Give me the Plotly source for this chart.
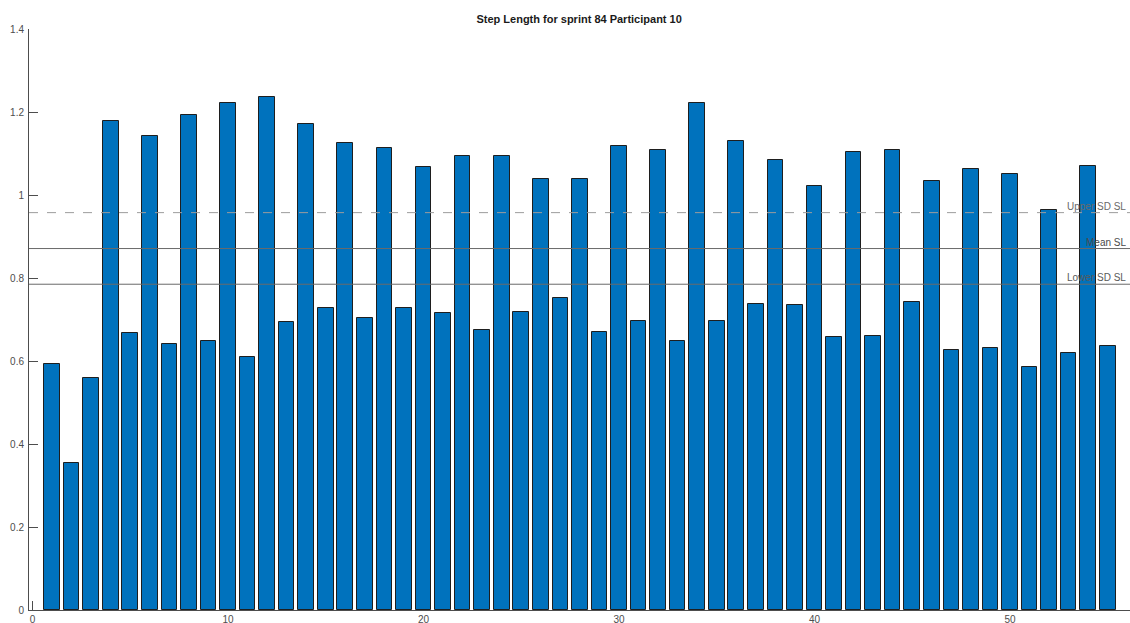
import plotly.graph_objects as go

steps = [1, 2, 3, 4, 5, 6, 7, 8, 9, 10, 11, 12, 13, 14, 15, 16, 17, 18, 19, 20,
         21, 22, 23, 24, 25, 26, 27, 28, 29, 30, 31, 32, 33, 34, 35, 36, 37, 38, 39, 40,
         41, 42, 43, 44, 45, 46, 47, 48, 49, 50, 51, 52, 53, 54, 55]
step_length = [0.592, 0.354, 0.560, 1.179, 0.668, 1.141, 0.641, 1.193, 0.649, 1.222,
               0.609, 1.235, 0.694, 1.170, 0.727, 1.126, 0.704, 1.113, 0.727, 1.067,
               0.715, 1.095, 0.674, 1.095, 0.717, 1.038, 0.753, 1.039, 0.670, 1.119,
               0.696, 1.108, 0.648, 1.221, 0.696, 1.129, 0.738, 1.085, 0.734, 1.022,
               0.657, 1.104, 0.661, 1.108, 0.741, 1.034, 0.627, 1.063, 0.631, 1.051,
               0.586, 0.963, 0.620, 1.070, 0.635]

ref_names = ["Upper SD SL", "Mean SL", "Lower SD SL"]
ref_values = [0.9575, 0.871, 0.785]
ref_dash = ["dash", "solid", "solid"]
ref_colors = ["#9c9c9c", "#6a6a6a", "#6a6a6a"]
ref_text_colors = ["#6a6a6a", "#4a4a4a", "#5a5a5a"]

title_text = "Step Length for sprint 84 Participant 10"

fig = go.Figure()
fig.add_trace(go.Bar(
    x=steps, y=step_length, width=0.8,
    marker=dict(color="#0072BD", line=dict(color="#1e1e1e", width=1)),
    showlegend=False,
))

for name, val, dash, col, tcol in zip(ref_names, ref_values, ref_dash, ref_colors, ref_text_colors):
    fig.add_shape(type="line", xref="paper", x0=0, x1=1, yref="y", y0=val, y1=val,
                  line=dict(color=col, width=1, dash=dash), layer="above")
    fig.add_annotation(text=name, xref="paper", x=1, xanchor="right", xshift=-2,
                       yref="y", y=val, yanchor="bottom", yshift=-1, showarrow=False,
                       font=dict(family="Liberation Sans, Arial", size=10, color=tcol))

axis_font = dict(family="Liberation Sans, Arial", size=10, color="#4d4d4d")

fig.update_layout(
    width=1130, height=623,
    margin=dict(l=29, r=0, t=28.5, b=12.8, pad=0, autoexpand=False),
    plot_bgcolor="white", paper_bgcolor="white",
    title=dict(text=title_text, x=0.5125, xanchor="center", y=0.970, yanchor="middle",
               font=dict(family="Liberation Sans, Arial", size=11, color="#1a1a1a", weight="bold")),
    bargap=0,
    xaxis=dict(range=[-0.18, 56.14], tickvals=[0, 10, 20, 30, 40, 50], ticks="inside", ticklen=9,
               tickcolor="#4d4d4d", showline=True, linecolor="#4d4d4d", linewidth=1,
               showgrid=False, zeroline=False, tickfont=axis_font, layer="below traces",
               automargin=False),
    yaxis=dict(range=[0, 1.4], dtick=0.2, ticks="inside", ticklen=9, tickcolor="#4d4d4d",
               showline=True, linecolor="#4d4d4d", linewidth=1, showgrid=False,
               zeroline=False, tickfont=axis_font, ticklabelstandoff=2, automargin=False),
)

fig.write_html("out.html", config={"displayModeBar": False},
               post_script="document.body.style.margin='0';")
